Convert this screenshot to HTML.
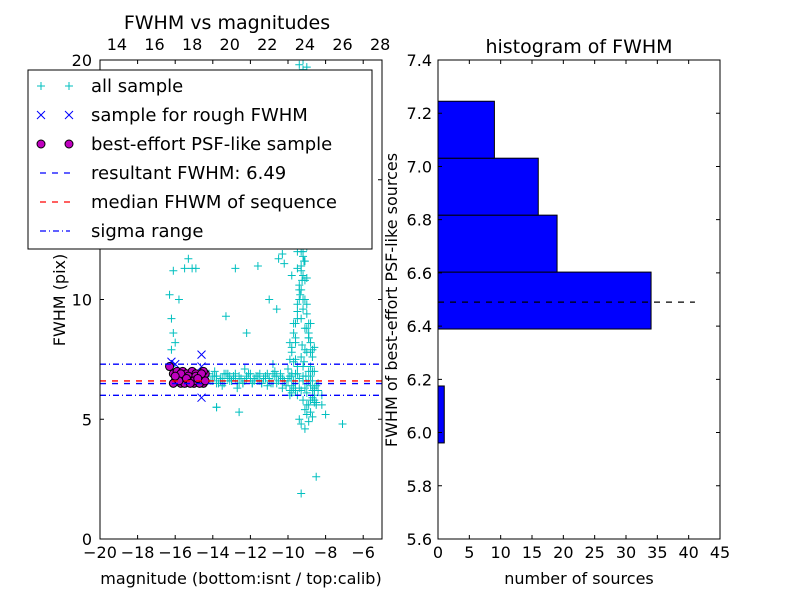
<!DOCTYPE html>
<html><head><meta charset="utf-8"><style>
body{margin:0;background:#fff;}
svg{display:block;font-family:"DejaVu Sans","Liberation Sans",sans-serif;}
</style></head><body>
<svg id="fig" width="800" height="600" viewBox="0 0 800 600">
<rect width="800" height="600" fill="#fff"/>
<g id="left"></g>
<g id="right"></g>
</svg>
<script>
// ---- data: scatter (bottom magnitude, FWHM) ----
const allMag = [-16.2,-16.1,-16.0,-15.8,-15.6,-15.4,-15.2,-15.0,-14.9,-14.6,-14.4,-14.2,-14.0,-13.8,-13.6,-13.4,-13.2,-13.0,-12.8,-12.6,-12.4,-12.2,-12.0,-11.8,-11.6,-11.4,-11.2,-11.0,-10.8,-10.6,-10.4,-10.2,-10.0,-9.8,-9.6,-9.4,-9.2,-9.0,-8.8,-8.6,-8.4,-8.2,
 -13.9,-13.5,-13.1,-12.7,-12.3,-11.9,-11.5,-11.1,-10.7,-10.3,-9.9,-9.5,-9.1,-8.7,
 -16.3,-16.2,-16.1,-16.0,-15.8,-15.5,-15.3,-15.1,-14.9,-16.2,-16.1,-13.3,-12.2,-11.0,-10.6,-10.2,-9.6,-9.5,-11.6,-10.5,-12.8,
 -9.9,-9.8,-9.7,-9.6,-9.5,-9.4,-9.3,-9.2,-9.1,-9.0,-8.9,-8.8,-8.7,-8.6,-8.5,
 -9.9,-9.8,-9.7,-9.6,-9.5,-9.4,-9.3,-9.2,-9.1,-9.0,-8.9,-8.8,-8.7,-8.6,-8.5,
 -9.7,-9.6,-9.5,-9.4,-9.3,-9.2,-9.1,-9.0,-8.9,-8.8,-8.7,-9.4,-9.3,-9.2,-9.1,-9.0,
 -9.5,-9.4,-9.3,-9.2,-9.1,-9.0,-8.9,-9.3,-9.2,-9.1,-9.4,-9.2,-9.0,-8.8,-8.6,-8.4,-8.2,-8.0,
 -9.4,-9.3,-9.1,-9.0,-8.9,-9.6,-9.2,-9.5,-9.8,-7.1,-8.5,-13.8,-12.6,-9.3,-9.3,-10.8,-10.3,-9.0,-8.7,-13.8,
 -14.1,-13.9,-13.7,-13.5,-13.3,-13.1,-12.9,-12.7,-12.5,-12.3,-12.1,-11.9,-11.7,-11.5,-11.3,-11.1,-10.9,-10.7,-10.5,-10.3,-10.1,-9.9,-9.7,
 -14.0,-13.6,-13.2,-12.8,-12.4,-12.0,-11.6,-11.2,-10.8,-10.4,-10.0,-9.6,-9.2,-8.8,
 -13.8,-13.4,-13.0,-12.6,-12.2,-11.8,-11.4,-11.0,-10.6,-10.2,-9.8,-9.4,-9.0,-8.6,
 -9.4,-9.3,-9.2,-9.1,-9.0,-8.9,-9.35,-9.25,-9.15,-9.05,-8.95,-9.3,-9.2,-9.1,-9.0,-9.35,-9.25,-9.15,-9.05,-9.3,-9.2,-9.1,-9.0,-8.9,-9.3,-9.2,-9.1,-9.25,-9.15,-9.05,
 -9.6,-9.5,-9.7,-9.8,-9.5,-9.6,-9.9,-10.0,-9.7,-9.8,-8.8,-8.7,-8.6,-8.9,-8.8,-8.7,-8.5,-8.6,-9.0,-8.9,
 -9.2,-9.1,-9.0,-9.3,-9.2,-9.1,-9.0,-8.9,-9.2,-9.1,-9.0,-8.8];
const allFwhm = [7.2,6.9,6.6,6.8,6.5,6.7,6.9,6.6,6.8,6.7,6.5,6.9,6.6,6.8,6.7,6.5,6.9,6.6,6.7,6.8,6.5,6.7,6.9,6.6,6.8,6.5,6.7,6.6,6.9,6.5,6.8,6.6,6.7,6.4,6.9,6.3,6.6,6.1,6.8,6.2,6.5,6.0,
 7.0,6.4,6.8,6.3,7.1,6.5,6.9,6.4,7.0,6.3,6.2,6.0,6.3,5.9,
 10.2,9.2,11.2,8.2,10.0,11.3,11.7,11.3,11.3,7.9,8.6,9.3,8.6,10.0,9.6,11.5,12.8,11.3,11.4,11.7,11.3,
 7.5,8.0,8.6,9.0,9.5,10.0,10.4,11.0,11.6,12.2,9.0,8.2,7.6,7.0,6.4,
 6.0,6.8,7.4,8.2,9.2,10.6,12.0,13.4,14.6,9.8,8.6,7.2,6.6,5.8,5.6,
 12.6,13.8,15.0,16.2,17.2,18.4,10.8,9.4,8.4,7.8,7.0,14.0,15.6,11.8,12.4,13.2,
 9.8,10.4,11.2,10.0,8.8,7.8,7.0,6.2,5.8,5.4,19.8,19.6,19.7,9.0,8.0,6.2,5.6,5.2,
 5.0,4.8,4.6,5.2,5.6,6.2,20.0,12.0,11.0,4.8,2.6,5.5,5.3,1.9,12.5,7.3,11.9,10.9,7.9,5.5,
 6.6,6.8,6.5,6.7,6.9,6.6,6.8,6.5,6.7,6.6,6.9,6.5,6.8,6.6,6.7,6.9,6.5,6.8,6.6,6.7,6.4,6.8,6.6,
 6.8,6.6,6.7,6.9,6.5,6.7,6.6,6.8,6.5,6.9,6.6,6.5,6.8,6.4,
 6.5,6.9,6.6,6.5,6.8,6.7,6.5,6.7,6.8,6.6,6.9,6.7,6.5,6.3,
 14.8,15.4,16.0,16.6,17.2,13.6,14.2,15.0,15.8,16.4,13.0,11.4,12.0,12.6,13.2,10.2,10.8,11.6,12.4,9.2,9.6,10.0,8.8,8.4,7.6,7.2,7.9,8.1,7.4,6.8,
 8.4,7.2,9.0,7.8,6.9,7.5,8.2,7.1,6.3,6.1,5.8,6.2,5.7,6.6,5.3,5.1,5.7,6.0,5.6,4.9,
 18.0,18.8,19.4,17.6,16.8,17.8,15.2,14.4,16.2,13.8];
const roughMag = [-16.2,-16.0,-14.6,-14.6,-14.6,-15.2,-15.8];
const roughFwhm = [7.4,7.3,7.7,7.2,5.9,6.5,6.6];
const psfMag = [-16.3,-16.1,-16.0,-15.9,-15.8,-15.7,-15.6,-15.5,-15.4,-15.3,-15.2,-15.1,-15.0,-14.9,-14.8,-14.7,-14.6,-14.5,-14.4,
 -16.1,-15.9,-15.7,-15.5,-15.3,-15.1,-14.9,-14.7,-14.5,-14.4,-15.8,-15.4,-15.0,-14.6,-16.0,-15.2,-14.8];
const psfFwhm = [7.2,6.9,6.6,7.0,6.8,6.5,7.0,6.7,6.9,6.6,6.8,7.0,6.5,6.9,6.7,6.6,6.8,6.5,6.9,
 6.5,6.7,6.9,6.5,6.8,6.6,6.8,6.5,7.0,6.6,6.6,6.7,6.6,6.9,6.8,6.5,6.7];
const resultFwhm = 6.49, medianFwhm = 6.6, sigmaLow = 6.0, sigmaHigh = 7.3;
const xTicksBottom = [-20,-18,-16,-14,-12,-10,-8,-6];
const xTicksTop = [14,16,18,20,22,24,26,28];
const topOffset = 33.1;
const yTicksLeft = [0,5,10,15,20];
// ---- data: histogram ----
const binEdges = [5.961,6.175,6.389,6.603,6.817,7.031,7.245];
const binCounts = [1,0,34,19,16,9];
const histXTicks = [0,5,10,15,20,25,30,35,40,45];
const histYTicks = [5.6,5.8,6.0,6.2,6.4,6.6,6.8,7.0,7.2,7.4];
const histLineMax = 41;

const NS='http://www.w3.org/2000/svg';
function mk(parent,tag,attrs){const e=document.createElementNS(NS,tag);for(const k in attrs)e.setAttribute(k,attrs[k]);parent.appendChild(e);return e;}
function txt(parent,x,y,s,anchor,size){const t=mk(parent,'text',{x:x,y:y,'text-anchor':anchor||'middle','font-size':size||16,fill:'#000'});t.textContent=s;return t;}

// Left axes
const L={x0:100,x1:382,y0:60,y1:539};
const lx=v=>L.x0+(v+20)/15*(L.x1-L.x0);
const ly=v=>L.y1-v/20*(L.y1-L.y0);
const lg=document.getElementById('left');
const clipDef=mk(lg,'clipPath',{id:'lclip'});mk(clipDef,'rect',{x:L.x0,y:L.y0,width:L.x1-L.x0,height:L.y1-L.y0});
const plot=mk(lg,'g',{'clip-path':'url(#lclip)'});


for(let i=0;i<allMag.length;i++){const x=lx(allMag[i]),y=ly(allFwhm[i]);
 const p=mk(plot,'path',{d:`M${x-4},${y}H${x+4}M${x},${y-4}V${y+4}`,stroke:'#00bfbf','stroke-width':1});
 
 }
for(let i=0;i<roughMag.length;i++){const x=lx(roughMag[i]),y=ly(roughFwhm[i]);
 const p=mk(plot,'path',{d:`M${x-4},${y-4}L${x+4},${y+4}M${x-4},${y+4}L${x+4},${y-4}`,stroke:'#0000ff','stroke-width':1});
 
 }
for(let i=0;i<psfMag.length;i++){const c=mk(plot,'circle',{cx:lx(psfMag[i]),cy:ly(psfFwhm[i]),r:4,fill:'#bf00bf',stroke:'#000','stroke-width':1});
 
 }
function hline(v,col,dash,name){const l=mk(plot,'line',{x1:L.x0,x2:L.x1,y1:ly(v),y2:ly(v),stroke:col,'stroke-width':1.3,'stroke-dasharray':dash});
 
 }
hline(medianFwhm,'#ff0000','6,6','median-line');
hline(resultFwhm,'#0000ff','6,6','result-fwhm-line');
hline(sigmaLow,'#0000ff','6,3,1,3','sigma-low-line');
hline(sigmaHigh,'#0000ff','6,3,1,3','sigma-high-line');
mk(lg,'rect',{x:L.x0,y:L.y0,width:L.x1-L.x0,height:L.y1-L.y0,fill:'none',stroke:'#000','stroke-width':1});
xTicksBottom.forEach(v=>{const x=lx(v);mk(lg,'path',{d:`M${x},${L.y1}v-4M${x},${L.y0}v4`,stroke:'#000'});
 txt(lg,x,L.y1+19,(v<0?'\u2212':'')+Math.abs(v),'middle',16);});
xTicksTop.forEach(v=>{const x=lx(v-topOffset);txt(lg,x,L.y0-10,String(v),'middle',16);});
yTicksLeft.forEach(v=>{const y=ly(v);mk(lg,'path',{d:`M${L.x0},${y}h4M${L.x1},${y}h-4`,stroke:'#000'});
 txt(lg,L.x0-8,y+6,String(v),'end',16);});
txt(lg,227,29,'FWHM vs magnitudes','middle',19);
txt(lg,241,584,'magnitude (bottom:isnt / top:calib)','middle',16);
const yl=txt(lg,0,0,'FWHM (pix)','middle',16);yl.setAttribute('transform','translate(65,300) rotate(-90)');

// legend
const leg=mk(lg,'g',{});


mk(leg,'rect',{x:28,y:70,width:344,height:179,fill:'#fff',stroke:'#000','stroke-width':1});
const items=['all sample','sample for rough FWHM','best-effort PSF-like sample','resultant FWHM: 6.49','median FHWM of sequence','sigma range'];
items.forEach((s,i)=>{const y=86+i*29;const g=mk(leg,'g',{});
 
 
 [41,69].forEach(x=>{
  if(i==0)mk(g,'path',{d:`M${x-4},${y}h8M${x},${y-4}v8`,stroke:'#00bfbf'});
  if(i==1)mk(g,'path',{d:`M${x-4},${y-4}l8,8M${x-4},${y+4}l8,-8`,stroke:'#0000ff'});
  if(i==2)mk(g,'circle',{cx:x,cy:y,r:4,fill:'#bf00bf',stroke:'#000'});});
 if(i==3)mk(g,'line',{x1:40,x2:70,y1:y,y2:y,stroke:'#0000ff','stroke-width':1.3,'stroke-dasharray':'6,6'});
 if(i==4)mk(g,'line',{x1:40,x2:70,y1:y,y2:y,stroke:'#ff0000','stroke-width':1.3,'stroke-dasharray':'6,6'});
 if(i==5)mk(g,'line',{x1:40,x2:70,y1:y,y2:y,stroke:'#0000ff','stroke-width':1.3,'stroke-dasharray':'6,3,1,3'});
 txt(g,91,y+6,s,'start',18);});

// Right axes
const R={x0:438,x1:720,y0:60,y1:539};
const rx=v=>R.x0+v/45*(R.x1-R.x0);
const ry=v=>R.y1-(v-5.6)/1.8*(R.y1-R.y0);
const rg=document.getElementById('right');
for(let i=0;i<binCounts.length;i++){if(binCounts[i]<=0)continue;
 const y=ry(binEdges[i+1]),h=ry(binEdges[i])-y;
 const b=mk(rg,'rect',{x:rx(0),y:y,width:rx(binCounts[i])-rx(0),height:h,fill:'#0000ff',stroke:'#000','stroke-width':1});
 
 }
const dl=mk(rg,'line',{x1:rx(0),x2:rx(histLineMax),y1:ry(resultFwhm),y2:ry(resultFwhm),stroke:'#000','stroke-width':1.2,'stroke-dasharray':'6,6'});


mk(rg,'rect',{x:R.x0,y:R.y0,width:R.x1-R.x0,height:R.y1-R.y0,fill:'none',stroke:'#000'});
histXTicks.forEach(v=>{const x=rx(v);mk(rg,'path',{d:`M${x},${R.y1}v-4M${x},${R.y0}v4`,stroke:'#000'});txt(rg,x,R.y1+19,String(v),'middle',16);});
histYTicks.forEach(v=>{const y=ry(v);mk(rg,'path',{d:`M${R.x0},${y}h4M${R.x1},${y}h-4`,stroke:'#000'});txt(rg,R.x0-6,y+6,v.toFixed(1),'end',16);});
txt(rg,579,53,'histogram of FWHM','middle',19);
txt(rg,579,584,'number of sources','middle',16);
const ryl=txt(rg,0,0,'FWHM of best-effort PSF-like sources','middle',16);ryl.setAttribute('transform','translate(397,300) rotate(-90)');

</script>
</body></html>
